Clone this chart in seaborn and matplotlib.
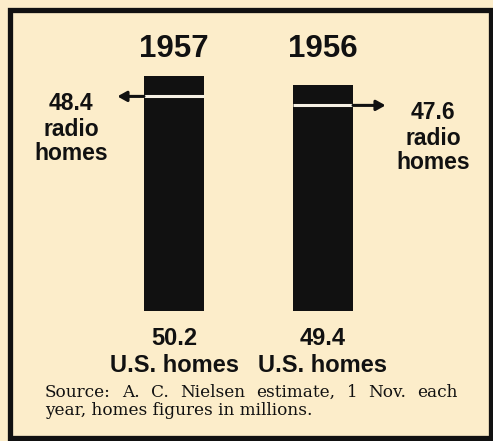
import matplotlib
matplotlib.use("Agg")
import matplotlib.pyplot as plt
import matplotlib.transforms as mtransforms
from matplotlib.patches import Rectangle
import seaborn as sns
import pandas as pd

# ---- data ----
years = ["1957", "1956"]
us_homes = [50.2, 49.4]
radio_homes = [48.4, 47.6]
us_label = "U.S. homes"
radio_label_lines = ["radio", "homes"]
source_line1 = "Source: A. C. Nielsen estimate, 1 Nov. each"
source_line2 = "year, homes figures in millions."

BG = "#fcedca"
INK = "#111111"
W, H = 493, 441

sns.set_theme(style="white")
plt.rcParams["font.family"] = ["Liberation Sans", "DejaVu Sans"]

fig = plt.figure(figsize=(W / 100, H / 100), dpi=100)
fig.patch.set_facecolor(BG)

# axes: bottom at px 311, top at px 20, left 25 px, width 447 px
ax = fig.add_axes([25 / W, (H - 311) / H, 447 / W, 291 / H])
ax.set_facecolor(BG)

df = pd.DataFrame({"year": years, "us": us_homes, "radio": radio_homes})
bar_w = 0.403
sns.barplot(data=df, x="year", y="us", order=years, color=INK,
            saturation=1, width=bar_w, errorbar=None, ax=ax,
            edgecolor=INK, linewidth=0)
ax.set_xlim(-1, 2)
ax.set_ylim(29.3, 55.2)
ax.axis("off")

blend = mtransforms.blended_transform_factory(ax.transData, fig.transFigure)

def fy(px):
    return 1 - px / H

label_dx = [-0.69, 0.74]
arrow_dx = [-0.38, 0.42]
for i, (yr, us, rad) in enumerate(zip(years, us_homes, radio_homes)):
    # white line on bar at radio value
    ax.hlines(rad, i - bar_w / 2, i + bar_w / 2, color="#f6f1e4", lw=2.2, zorder=5)
    # arrow
    side = -1 if i == 0 else 1
    ax.annotate("", xy=(i + arrow_dx[i], rad), xytext=(i + side * bar_w / 2, rad),
                arrowprops=dict(arrowstyle="-|>,head_length=0.45,head_width=0.25",
                                color=INK, lw=2.2, shrinkA=0, shrinkB=0), zorder=6)
    # radio label block
    lines = [f"{rad:.1f}"] + radio_label_lines
    offs = [14, 40, 64]
    for txt, off in zip(lines, offs):
        ax.annotate(txt, xy=(i + label_dx[i], rad), xytext=(0, -off),
                    textcoords="offset pixels", ha="center", va="baseline",
                    fontsize=16.5, fontweight="bold", color=INK)
    # year title
    ax.text(i, fy(57), yr, transform=blend, ha="center", va="baseline",
            fontsize=22.5, fontweight="bold", color=INK)
    # bottom labels
    ax.text(i, fy(345), f"{us:.1f}", transform=blend, ha="center", va="baseline",
            fontsize=17, fontweight="bold", color=INK)
    ax.text(i, fy(372), us_label, transform=blend, ha="center", va="baseline",
            fontsize=17, fontweight="bold", color=INK)

# source note (first line justified)
fig.canvas.draw()
renderer = fig.canvas.get_renderer()
SRC_FS = 12.2
words = source_line1.split(" ")
texts = [fig.text(0, fy(397), w, ha="left", va="baseline", fontsize=SRC_FS,
                  family="DejaVu Serif", color=INK) for w in words]
widths = [t.get_window_extent(renderer).width for t in texts]
x0, x1 = 45, 458
gap = (x1 - x0 - sum(widths)) / (len(words) - 1)
x = x0
for t, wdt in zip(texts, widths):
    t.set_x(x / W)
    x += wdt + gap
fig.text(45 / W, fy(415), source_line2, ha="left", va="baseline", fontsize=SRC_FS,
         family="DejaVu Serif", color=INK)

# frame
fig.add_artist(Rectangle((9.5 / W, 3 / H), (491 - 9.5) / W, (438 - 10) / H,
                         transform=fig.transFigure, fill=False, edgecolor=INK,
                         lw=3.8))

fig.savefig("out.png", dpi=100, facecolor=BG)
